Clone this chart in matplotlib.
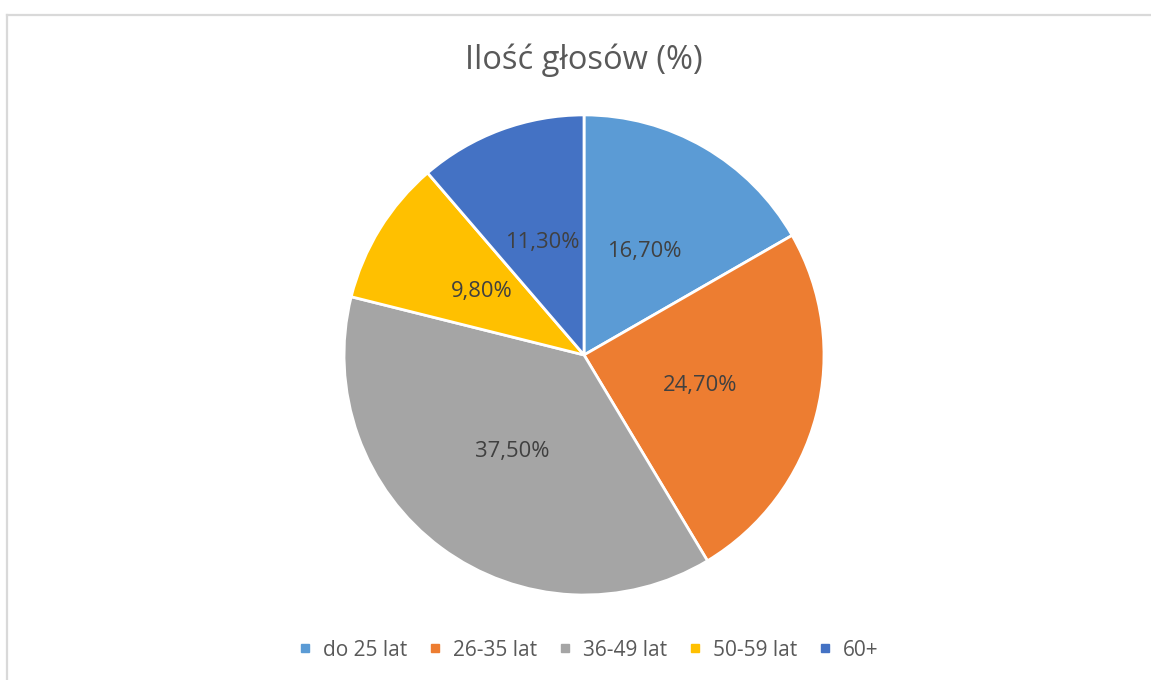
import matplotlib.pyplot as plt
from matplotlib.lines import Line2D

plt.rcParams['font.family'] = ['Open Sans', 'DejaVu Sans']

# data
categories = ['do 25 lat', '26-35 lat', '36-49 lat', '50-59 lat', '60+']
shares = [16.7, 24.7, 37.5, 9.8, 11.3]
colors = ['#5B9BD5', '#ED7D31', '#A5A5A5', '#FFC000', '#4472C4']
title = 'Ilość głosów (%)'

fig = plt.figure(figsize=(11.51, 6.80), dpi=100)

# light grey frame of the chart area
fig.add_artist(Line2D([7.5 / 1151, 7.5 / 1151], [0, 1 - 14.5 / 680],
                      transform=fig.transFigure, color='#d9d9d9', lw=1.6))
fig.add_artist(Line2D([7.5 / 1151, 1], [1 - 14.5 / 680, 1 - 14.5 / 680],
                      transform=fig.transFigure, color='#d9d9d9', lw=1.6))

ax = fig.add_axes([0.2989, 0.125, 0.417, 0.706])
wedges, texts = ax.pie(
    shares, colors=colors, startangle=90, counterclock=False,
    labels=[f'{v:.2f}%'.replace('.', ',') for v in shares],
    labeldistance=0.5,
    wedgeprops=dict(edgecolor='white', linewidth=2),
    textprops=dict(color='#404040', fontsize=15.8, ha='center', va='center'),
)
ax.set_xlim(-1, 1)
ax.set_ylim(-1, 1)
ax.set_aspect('auto')
ax.axis('off')

fig.text(584 / 1151, 1 - 60 / 680, title, ha='center', va='center',
         fontsize=23.5, color='#595959')

handles = [Line2D([], [], marker='s', linestyle='', markersize=5.5,
                  markerfacecolor=c, markeredgecolor=c) for c in colors]
fig.legend(handles, categories, loc='center', bbox_to_anchor=(589 / 1151, 1 - 650 / 680),
           ncol=5, frameon=False, fontsize=15, labelcolor='#595959',
           handlelength=0.6, handletextpad=0.55, columnspacing=1.05)

fig.savefig('out.png', dpi=100)
